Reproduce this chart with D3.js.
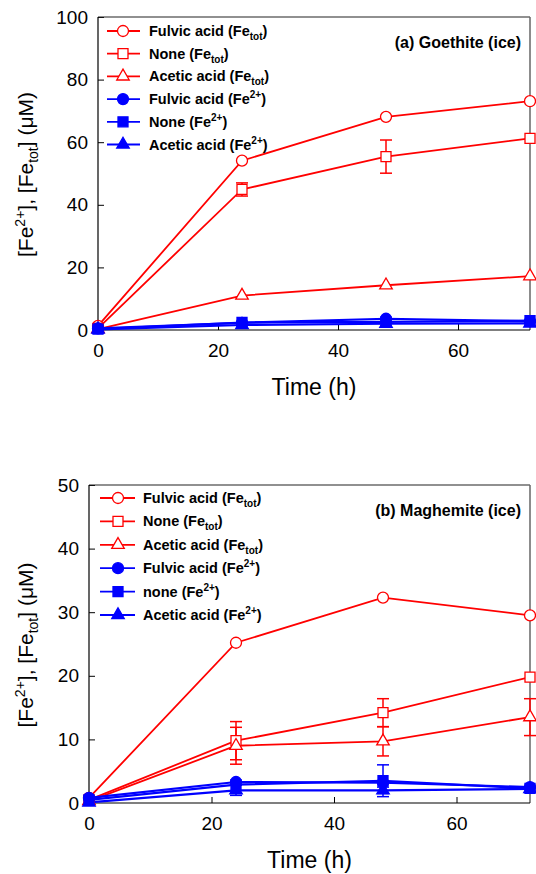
<!DOCTYPE html>
<html>
<head>
<meta charset="utf-8">
<script src="https://cdn.jsdelivr.net/npm/d3@7"></script>
<style>
  body { margin: 0; background: #fff; }
  svg { display: block; font-family: Arial, "Liberation Sans", sans-serif; }
</style>
</head>
<body>
<svg id="chart" width="536" height="874"></svg>
<script>
// Sampling times (h)
const timeH = [0, 24, 48, 72];

// Panel (a) Goethite (ice)
const goeFulvicTot = [1.3, 54.1, 68.1, 73.1];
const goeNoneTot = [0.5, 44.9, 55.4, 61.2];
const goeNoneTotErr = [0, 2.1, 5.3, 0];
const goeAceticTot = [0.3, 11.0, 14.3, 17.2];
const goeFulvicFe2 = [0.5, 2.3, 3.6, 2.8];
const goeNoneFe2 = [0.3, 2.4, 2.6, 3.0];
const goeAceticFe2 = [0.2, 1.6, 2.0, 2.1];

// Panel (b) Maghemite (ice)
const magFulvicTot = [0.8, 25.2, 32.3, 29.5];
const magNoneTot = [0.5, 9.8, 14.2, 19.8];
const magNoneTotErr = [0, 3.0, 2.2, 0];
const magAceticTot = [0.3, 9.0, 9.7, 13.5];
const magAceticTotErr = [0, 2.9, 2.3, 2.9];
const magFulvicFe2 = [0.8, 3.3, 3.2, 2.5];
const magNoneFe2 = [0.5, 2.9, 3.5, 2.3];
const magNoneFe2Err = [0, 0, 2.5, 0];
const magAceticFe2 = [0.1, 2.0, 2.0, 2.2];
const magAceticFe2Err = [0, 0.8, 0.5, 0];

const RED = '#ff0000';
const BLUE = '#0000ff';

const svg = d3.select('#chart');

// build a series row
function series(name, tag, values, errs, color, shape, open) {
  return { name, tag, values, errs: errs || values.map(() => 0), color, shape, open };
}

const panels = [
  {
    box: { left: 98, top: 17, right: 530, bottom: 330 },
    yMax: 100,
    yTicks: [0, 20, 40, 60, 80, 100],
    title: '(a) Goethite (ice)',
    legend: { x0: 9, x1: 42, xm: 25, xt: 51, y0: 14, dy: 22.7 },
    series: [
      series('Fulvic acid', 'tot', goeFulvicTot, null, RED, d3.symbolCircle, true),
      series('None', 'tot', goeNoneTot, goeNoneTotErr, RED, d3.symbolSquare, true),
      series('Acetic acid', 'tot', goeAceticTot, null, RED, d3.symbolTriangle, true),
      series('Fulvic acid', '2+', goeFulvicFe2, null, BLUE, d3.symbolCircle, false),
      series('None', '2+', goeNoneFe2, null, BLUE, d3.symbolSquare, false),
      series('Acetic acid', '2+', goeAceticFe2, null, BLUE, d3.symbolTriangle, false),
    ],
  },
  {
    box: { left: 89, top: 485, right: 530, bottom: 803 },
    yMax: 50,
    yTicks: [0, 10, 20, 30, 40, 50],
    title: '(b) Maghemite (ice)',
    legend: { x0: 11, x1: 46, xm: 29, xt: 54, y0: 13, dy: 23.4 },
    series: [
      series('Fulvic acid', 'tot', magFulvicTot, null, RED, d3.symbolCircle, true),
      series('None', 'tot', magNoneTot, magNoneTotErr, RED, d3.symbolSquare, true),
      series('Acetic acid', 'tot', magAceticTot, magAceticTotErr, RED, d3.symbolTriangle, true),
      series('Fulvic acid', '2+', magFulvicFe2, null, BLUE, d3.symbolCircle, false),
      series('none', '2+', magNoneFe2, magNoneFe2Err, BLUE, d3.symbolSquare, false),
      series('Acetic acid', '2+', magAceticFe2, magAceticFe2Err, BLUE, d3.symbolTriangle, false),
    ],
  },
];

const symbolSize = new Map([
  [d3.symbolCircle, 95],
  [d3.symbolSquare, 100],
  [d3.symbolTriangle, 68],
]);

function drawPanel(p) {
  const { left, top, right, bottom } = p.box;
  const x = d3.scaleLinear().domain([0, 72]).range([left, right]);
  const y = d3.scaleLinear().domain([0, p.yMax]).range([bottom, top]);

  const g = svg.append('g');

  // axes (ticks point inward)
  const xAxis = g.append('g')
    .attr('transform', `translate(0,${bottom})`)
    .call(d3.axisBottom(x).tickValues([0, 20, 40, 60]).tickSize(-6).tickPadding(14));
  const yAxis = g.append('g')
    .attr('transform', `translate(${left},0)`)
    .call(d3.axisLeft(y).tickValues(p.yTicks).tickSize(-6).tickPadding(10));

  [xAxis, yAxis].forEach((a) => {
    a.select('.domain').remove();
    a.selectAll('line').attr('stroke', '#000').attr('stroke-width', 1);
    a.selectAll('text').attr('fill', '#000').style('font-size', '19px').style('font-family', 'Arial, "Liberation Sans", sans-serif');
  });

  // frame
  g.append('line').attr('x1', left).attr('x2', right).attr('y1', top).attr('y2', top)
    .attr('stroke', '#222').attr('stroke-width', 1.2);
  g.append('line').attr('x1', right).attr('x2', right).attr('y1', top).attr('y2', bottom)
    .attr('stroke', '#666').attr('stroke-width', 1.5);
  g.append('line').attr('x1', left).attr('x2', left).attr('y1', top).attr('y2', bottom)
    .attr('stroke', '#000').attr('stroke-width', 1.2);
  g.append('line').attr('x1', left).attr('x2', right).attr('y1', bottom).attr('y2', bottom)
    .attr('stroke', '#000').attr('stroke-width', 1.2);

  // axis titles
  g.append('text')
    .attr('x', (left + right) / 2)
    .attr('y', bottom + 65)
    .attr('text-anchor', 'middle')
    .style('font-size', '23px')
    .text('Time (h)');

  const yl = g.append('text')
    .attr('transform', `translate(33,${(top + bottom) / 2 + 1}) rotate(-90)`)
    .attr('text-anchor', 'middle')
    .style('font-size', '21px');
  yl.append('tspan').text('[Fe');
  yl.append('tspan').attr('dy', -8).style('font-size', '14px').text('2+');
  yl.append('tspan').attr('dy', 8).text('], [Fe');
  yl.append('tspan').attr('dy', 5).style('font-size', '14px').text('tot');
  yl.append('tspan').attr('dy', -5).text('] (\u03bcM)');

  // panel title
  g.append('text')
    .attr('x', right - 9)
    .attr('y', top + 31)
    .attr('text-anchor', 'end')
    .style('font-size', '16px')
    .style('font-weight', 'bold')
    .text(p.title);

  const line = d3.line().x((d) => x(d.t)).y((d) => y(d.v));
  const pts = (s) => timeH.map((t, i) => ({ t, v: s.values[i], e: s.errs[i] }));

  const sym = (s) => d3.symbol().type(s.shape).size(symbolSize.get(s.shape))();

  // error bars
  p.series.forEach((s) => {
    const eg = g.append('g').attr('stroke', s.color).attr('stroke-width', 1.5);
    pts(s).filter((d) => d.e > 0).forEach((d) => {
      const cx = x(d.t);
      eg.append('line').attr('x1', cx).attr('x2', cx).attr('y1', y(d.v - d.e)).attr('y2', y(d.v + d.e));
      eg.append('line').attr('x1', cx - 6).attr('x2', cx + 6).attr('y1', y(d.v - d.e)).attr('y2', y(d.v - d.e));
      eg.append('line').attr('x1', cx - 6).attr('x2', cx + 6).attr('y1', y(d.v + d.e)).attr('y2', y(d.v + d.e));
    });
  });

  // lines
  p.series.forEach((s) => {
    g.append('path')
      .datum(pts(s))
      .attr('d', line)
      .attr('fill', 'none')
      .attr('stroke', s.color)
      .attr('stroke-width', s.open ? 1.8 : 2.2);
  });

  // markers
  p.series.forEach((s) => {
    g.append('g').selectAll('path')
      .data(pts(s))
      .join('path')
      .attr('transform', (d) => `translate(${x(d.t)},${y(d.v)})`)
      .attr('d', sym(s))
      .attr('fill', s.open ? '#fff' : s.color)
      .attr('stroke', s.color)
      .attr('stroke-width', 1.3);
  });

  // legend
  const L = p.legend;
  p.series.forEach((s, i) => {
    const ly = top + L.y0 + i * L.dy;
    const row = g.append('g');
    row.append('line')
      .attr('x1', left + L.x0).attr('x2', left + L.x1)
      .attr('y1', ly).attr('y2', ly)
      .attr('stroke', s.color).attr('stroke-width', 1.8);
    row.append('path')
      .attr('transform', `translate(${left + L.xm},${ly})`)
      .attr('d', sym(s))
      .attr('fill', s.open ? '#fff' : s.color)
      .attr('stroke', s.color)
      .attr('stroke-width', 1.3);
    const t = row.append('text')
      .attr('x', left + L.xt)
      .attr('y', ly + 5)
      .style('font-size', '14.5px')
      .style('font-weight', 'bold');
    t.append('tspan').text(`${s.name} (Fe`);
    if (s.tag === 'tot') {
      t.append('tspan').attr('dy', 4).style('font-size', '10px').text('tot');
      t.append('tspan').attr('dy', -4).text(')');
    } else {
      t.append('tspan').attr('dy', -6).style('font-size', '10px').text('2+');
      t.append('tspan').attr('dy', 6).text(')');
    }
  });
}

panels.forEach(drawPanel);
</script>
</body>
</html>
